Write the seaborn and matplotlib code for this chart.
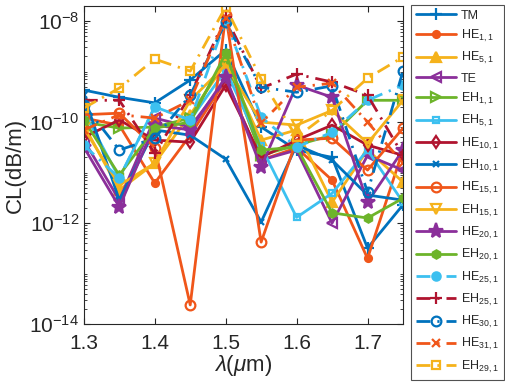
import numpy as np
import pandas as pd
import matplotlib
matplotlib.use("Agg")
import matplotlib.pyplot as plt
import seaborn as sns
from matplotlib.ticker import FixedLocator, LogLocator, NullFormatter

wavelength = [1.30, 1.35, 1.40, 1.45, 1.50, 1.55, 1.60, 1.65, 1.70, 1.75]

mode_labels = ["TM", r"HE$_{1,1}$", r"HE$_{5,1}$", "TE", r"EH$_{1,1}$", r"EH$_{5,1}$",
               r"HE$_{10,1}$", r"EH$_{10,1}$", r"HE$_{15,1}$", r"EH$_{15,1}$", r"HE$_{20,1}$",
               r"EH$_{20,1}$", r"HE$_{25,1}$", r"EH$_{25,1}$", r"HE$_{30,1}$", r"HE$_{31,1}$",
               r"EH$_{29,1}$"]

cl_TM    = [4.3e-10, 3.1e-10, 2.4e-10, 6.8e-10, 2.67e-9, 8.0e-11, 2.8e-11, 2.0e-11, 3.2e-13, 2.3e-12]
cl_HE1   = [1.2e-10, 8.7e-11, 6.2e-12, 5.5e-11, 6.8e-10, 1.77e-11, 3.1e-11, 7.1e-12, 2.0e-13, 2.8e-11]
cl_HE5   = [8.7e-11, 4.5e-12, 1.54e-11, 1.4e-10, 1.47e-9, 4.4e-11, 7.0e-11, 2.6e-12, 2.8e-11, 6.5e-12]
cl_TE    = [4.4e-11, 2.85e-12, 1.2e-10, 8.0e-11, 6.8e-10, 1.77e-11, 2.8e-11, 1.0e-12, 2.2e-11, 1.12e-11]
cl_EH1   = [1.0e-10, 7.6e-11, 8.0e-11, 1.2e-10, 1.85e-9, 2.2e-11, 3.5e-11, 5.5e-11, 2.7e-10, 2.7e-10]
cl_EH5   = [1.6e-10, 7.8e-12, 2.0e-10, 1.1e-10, 1.07e-9, 3.3e-11, 1.3e-12, 3.9e-12, 2.8e-11, 2.6e-12]
cl_HE10  = [5.0e-11, 1.1e-10, 4.4e-11, 4.0e-11, 5.4e-10, 2.0e-11, 4.4e-11, 8.7e-11, 3.5e-11, 2.2e-11]
cl_EH10  = [3.4e-10, 2.85e-12, 7.0e-11, 5.5e-11, 1.85e-11, 1.05e-12, 3.5e-11, 1.77e-11, 3.6e-12, 2.85e-12]
cl_HE15  = [1.4e-10, 1.5e-10, 3.1e-11, 2.4e-14, 1.31e-8, 4.2e-13, 4.4e-11, 4.8e-11, 1.12e-11, 7.6e-11]
cl_EH15  = [7.6e-11, 5.6e-12, 1.54e-11, 2.7e-10, 1.35e-9, 1.0e-10, 8.7e-11, 1.7e-10, 3.8e-11, 2.7e-10]
cl_HE20  = [3.2e-11, 2.1e-12, 8.7e-11, 7.0e-11, 7.8e-10, 1.29e-11, 5.4e-10, 3.1e-10, 2.6e-12, 2.8e-11]
cl_EH20  = [1.1e-10, 8.9e-12, 7.6e-11, 1.0e-10, 2.3e-9, 2.8e-11, 3.2e-11, 1.6e-12, 1.26e-12, 3.1e-12]
cl_HE25  = [3.5e-11, 7.8e-12, 2.0e-10, 1.1e-10, 1.05e-8, 1.26e-10, 3.2e-11, 6.3e-11, 2.7e-10, 5.4e-10]
cl_EH25  = [2.7e-10, 2.7e-10, 2.4e-11, 3.4e-10, 1.2e-8, 4.7e-10, 8.9e-10, 6.2e-10, 3.4e-10, 2.2e-11]
cl_HE30  = [2.2e-10, 2.8e-11, 4.8e-11, 3.4e-10, 9.5e-9, 4.9e-10, 3.9e-10, 5.2e-10, 4.1e-12, 1.02e-9]
cl_HE31  = [7.0e-11, 1.4e-10, 1.2e-10, 2.7e-10, 1.15e-8, 9.6e-11, 4.9e-10, 5.9e-10, 1.0e-10, 1.54e-11]
cl_EH29  = [1.9e-10, 4.7e-10, 1.77e-9, 1.02e-9, 1.9e-8, 7.1e-10, 5.0e-11, 1.7e-10, 7.4e-10, 1.94e-9]

series = [cl_TM, cl_HE1, cl_HE5, cl_TE, cl_EH1, cl_EH5, cl_HE10, cl_EH10, cl_HE15,
          cl_EH15, cl_HE20, cl_EH20, cl_HE25, cl_EH25, cl_HE30, cl_HE31, cl_EH29]

blue, orange, yellow, purple, green, cyan, dred = ("#0072BD", "#F0561A", "#F5B21B", "#8B2F9A",
                                                   "#6DB42A", "#3CC0F0", "#B0142F")
dashdot = (0, (5, 2.5, 0.8, 2.5))
styles = [
    (blue,   "+", True,  "-", 8),
    (orange, "o", True,  "-", 5),
    (yellow, "^", True,  "-", 7),
    (purple, "<", False, "-", 7),
    (green,  ">", False, "-", 7),
    (cyan,   "s", False, "-", 5),
    (dred,   "d", False, "-", 6),
    (blue,   "x", True,  "-", 5),
    (orange, "o", False, "-", 7),
    (yellow, "v", False, "-", 7),
    (purple, "*", True,  "-", 11),
    (green,  "h", True,  "-", 6),
    (cyan,   "o", True,  dashdot, 6),
    (dred,   "+", True,  dashdot, 8),
    (blue,   "o", False, dashdot, 7),
    (orange, "x", True,  dashdot, 6),
    (yellow, "s", False, dashdot, 6),
]

sns.set_style("ticks")
plt.rcParams["font.family"] = ["Liberation Sans", "DejaVu Sans"]
plt.rcParams["mathtext.fontset"] = "custom"
plt.rcParams["mathtext.rm"] = "Liberation Sans"
plt.rcParams["mathtext.it"] = "Liberation Sans:italic"

fig = plt.figure(figsize=(5.05, 3.91), dpi=100)
ax = fig.add_axes([0.166, 0.171, 0.632, 0.814])

for lab, vals, (col, mk, filled, ls, ms) in zip(mode_labels, series, styles):
    df = pd.DataFrame({"wl": wavelength, "cl": vals})
    sns.lineplot(data=df, x="wl", y="cl", ax=ax, color=col, marker=mk, linestyle=ls,
                 linewidth=2.0, markersize=ms, markeredgewidth=1.6,
                 markerfacecolor=(col if filled else "none"), markeredgecolor=col,
                 label=lab, legend=False, estimator=None, sort=False)

ax.set_yscale("log")
ax.set_xlim(1.3, 1.75)
ax.set_ylim(1e-14, 2e-8)
ax.set_xticks([1.3, 1.4, 1.5, 1.6, 1.7])
ax.set_xticklabels(["1.3", "1.4", "1.5", "1.6", "1.7"])
ax.yaxis.set_major_locator(FixedLocator([1e-14, 1e-12, 1e-10, 1e-8]))
ax.set_yticklabels([r"$10^{-14}$", r"$10^{-12}$", r"$10^{-10}$", r"$10^{-8}$"])
ax.yaxis.set_minor_locator(LogLocator(base=10, subs=np.arange(1, 10), numticks=30))
ax.yaxis.set_minor_formatter(NullFormatter())
ax.tick_params(which="both", direction="in", top=True, right=True, colors="#262626",
               labelsize=15)
ax.tick_params(axis="x", pad=7)
ax.tick_params(which="major", length=4, width=0.8)
ax.tick_params(which="minor", length=2, width=0.6)
for sp in ax.spines.values():
    sp.set_color("#262626")
    sp.set_linewidth(0.8)
ax.set_xlabel(r"$\lambda(\mu$m)", fontsize=16, color="#262626", labelpad=0)
ax.set_ylabel("CL(dB/m)", fontsize=16, color="#262626", labelpad=2)

handles, labels = ax.get_legend_handles_labels()
leg = fig.legend(handles, labels, loc="upper left", bbox_to_anchor=(0.814, 0.988),
                 bbox_transform=fig.transFigure, fontsize=9, frameon=True,
                 fancybox=False, edgecolor="#262626", handlelength=3.2,
                 handletextpad=0.4, labelspacing=0.5, borderpad=0.4, borderaxespad=0)
leg.get_frame().set_linewidth(0.8)

fig.savefig("out.png", dpi=100)
